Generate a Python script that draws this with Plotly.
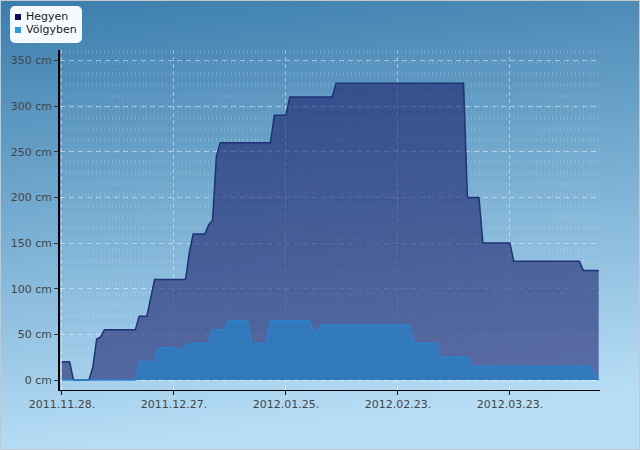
import base64
import datetime as dt
import plotly.graph_objects as go

# ---------------- data (daily values) ----------------
start_date = "2011-11-28"
hegyen = ([20] * 3 + [0] * 5 + [14, 45, 47] + [55] * 9 + [70] * 3 + [90] + [110] * 9 +
          [140] + [160] * 4 + [170, 175, 245] + [260] * 14 + [290] * 4 + [310] * 12 +
          [325] * 34 + [200] * 4 + [150] * 8 + [130] * 18 + [120] * 5)
volgyben = ([0] * 20 + [20] * 5 + [35] * 6 + [32, 37] + [40] * 6 + [55] * 4 + [65] * 6 +
            [40] * 5 + [65] * 11 + [55, 51] + [60] * 24 + [40] * 7 + [25] * 8 +
            [15] * 32 + [5, 0])
series_names = ["Hegyen", "Völgyben"]
y_ticks = [0, 50, 100, 150, 200, 250, 300, 350]
y_tick_labels = [f"{v} cm" for v in y_ticks]

d0 = dt.date.fromisoformat(start_date)
dates = [d0 + dt.timedelta(days=i) for i in range(len(hegyen))]

# ---------------- geometry ----------------
W, H = 640, 450
ML, MR, MT, MB = 60, 40, 50, 60
PW, PH = W - ML - MR, H - MT - MB


def px(x):
    return (x - ML) / PW


def py(y):
    return (H - MB - y) / PH


# background gradient + border + legend box as a decorative svg
svg = f'''<svg xmlns="http://www.w3.org/2000/svg" width="{W}" height="{H}" viewBox="0 0 {W} {H}">
<defs><linearGradient id="g" x1="0" y1="0" x2="0.15" y2="1">
<stop offset="0" stop-color="#3b7dac"/><stop offset="0.5" stop-color="#78aed2"/>
<stop offset="1" stop-color="#b8def6"/></linearGradient></defs>
<rect x="0" y="0" width="{W}" height="{H}" fill="url(#g)"/>
<rect x="0.5" y="0.5" width="{W-1}" height="{H-1}" fill="none" stroke="#c4c8cc" stroke-width="1"/>
<rect x="10" y="6" width="72" height="37" rx="5" ry="5" fill="#f5faff"/>
</svg>'''
svg_uri = "data:image/svg+xml;base64," + base64.b64encode(svg.encode()).decode()

fig = go.Figure()
fig.add_trace(go.Scatter(
    x=dates, y=hegyen, name=series_names[0], mode="lines", fill="tozeroy",
    line=dict(color="#1e3276", width=1.5), fillcolor="rgba(20,24,100,0.56)",
    showlegend=False, hoverinfo="skip"))
fig.add_trace(go.Scatter(
    x=dates, y=volgyben, name=series_names[1], mode="lines", fill="tozeroy",
    line=dict(color="#2a82cc", width=1.5), fillcolor="rgb(49,121,187)",
    showlegend=False, hoverinfo="skip"))

font_fam = "DejaVu Sans"
fig.update_layout(
    width=W, height=H,
    margin=dict(l=ML, r=MR, t=MT, b=MB, pad=0),
    paper_bgcolor="rgba(0,0,0,0)", plot_bgcolor="rgba(0,0,0,0)",
    showlegend=False,
    font=dict(family=font_fam, size=11, color="#454545"),
    images=[dict(source=svg_uri, xref="paper", yref="paper",
                 x=px(0), y=py(0), sizex=W / PW, sizey=H / PH,
                 xanchor="left", yanchor="top", sizing="stretch", layer="below")],
    xaxis=dict(
        type="date",
        range=[dt.datetime(2011, 11, 27, 12), dt.datetime(2012, 4, 15, 8)],
        tick0=start_date, dtick=29 * 86400000, tickformat="%Y.%m.%d.",
        showline=True, linecolor="#000", linewidth=1,
        ticks="outside", ticklen=4, tickcolor="#000",
        showgrid=True, gridcolor="rgba(255,255,255,0.45)", griddash="4px,3px",
        gridwidth=1, zeroline=False,
        minor=dict(dtick=86400000, showgrid=True, gridcolor="rgba(255,255,255,0.14)",
                   griddash="4px,7px", gridwidth=1),
        tickfont=dict(size=11, color="#454545"),
    ),
    yaxis=dict(
        range=[-10.9, 361.5],
        tickvals=y_ticks, ticktext=y_tick_labels,
        showline=True, linecolor="#000", linewidth=1.5,
        ticks="outside", ticklen=4, tickcolor="#333",
        showgrid=True, gridcolor="rgba(255,255,255,0.45)", griddash="5px,4px",
        zeroline=False,
        tickfont=dict(size=11, color="#454545"),
    ),
)

# legend: squares + text
legend_colors = ["#0c0c5c", "#2a9ae2"]
legend_y = [17, 30]
for name, col, yy in zip(series_names, legend_colors, legend_y):
    fig.add_shape(type="rect", xref="paper", yref="paper",
                  x0=px(15), x1=px(21), y0=py(yy - 3), y1=py(yy + 3),
                  fillcolor=col, line=dict(width=0))
    fig.add_annotation(text=name, xref="paper", yref="paper", x=px(24), y=py(yy),
                       xanchor="left", yanchor="middle", showarrow=False,
                       font=dict(family=font_fam, size=11, color="#1a1a1a"))

fig.write_html("out.html", config={"displayModeBar": False})
